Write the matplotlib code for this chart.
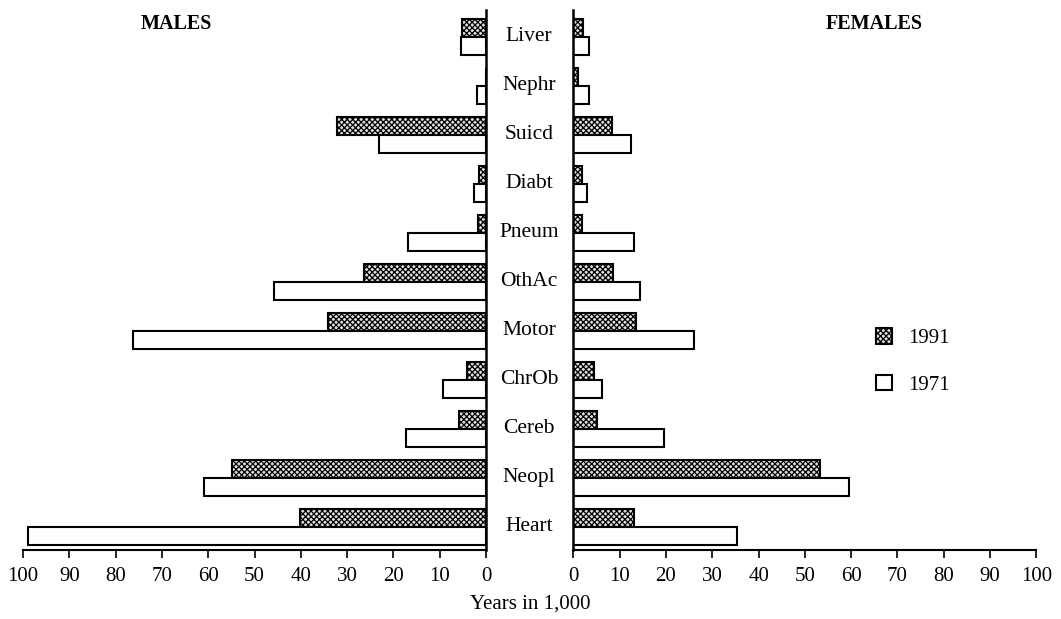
import numpy as np
import matplotlib
matplotlib.use("Agg")
import matplotlib.pyplot as plt
import matplotlib.transforms as mtransforms
from matplotlib.patches import Patch

# -------------------------------
# Data (years in 1,000), bottom to top
# -------------------------------
causes = ["Heart", "Neopl", "Cereb", "ChrOb", "Motor", "OthAc",
          "Pneum", "Diabt", "Suicd", "Nephr", "Liver"]

males_1991 = [40.1, 54.8, 5.8, 4.2, 34.2, 26.3, 1.8, 1.6, 32.1, 0.0, 5.1]
males_1971 = [98.9, 61.0, 17.2, 9.2, 76.3, 45.7, 16.8, 2.5, 23.1, 1.9, 5.5]

females_1991 = [13.1, 53.2, 5.2, 4.4, 13.6, 8.6, 1.8, 1.9, 8.4, 0.9, 2.1]
females_1971 = [35.4, 59.5, 19.6, 6.1, 26.1, 14.3, 13.1, 3.0, 12.4, 3.3, 3.3]

ticks = [0, 10, 20, 30, 40, 50, 60, 70, 80, 90, 100]

# -------------------------------
# Style
# -------------------------------
plt.rcParams["font.family"] = ["Liberation Serif", "DejaVu Serif"]
plt.rcParams["hatch.linewidth"] = 0.9

hatch_style = dict(facecolor="#e0e0e0", edgecolor="black", hatch="xxxxxx", linewidth=1.5)
plain_style = dict(facecolor="white", edgecolor="black", linewidth=1.5)

fig = plt.figure(figsize=(10.61, 6.19), dpi=100)
ax_l = fig.add_axes([0.0217, 0.1115, 0.4364, 0.8723])
ax_r = fig.add_axes([0.5404, 0.1115, 0.4364, 0.8723])

y = np.arange(len(causes))
h = 0.355
off = 0.185

# -------------------------------
# Males (left, reversed axis)
# -------------------------------
ax_l.barh(y + off, males_1991, height=h, **hatch_style)
ax_l.barh(y - off, males_1971, height=h, **plain_style)
ax_l.set_xlim(100, 0)

# -------------------------------
# Females (right)
# -------------------------------
ax_r.barh(y + off, females_1991, height=h, **hatch_style)
ax_r.barh(y - off, females_1971, height=h, **plain_style)
ax_r.set_xlim(0, 100)

for ax, side in [(ax_l, "right"), (ax_r, "left")]:
    ax.set_ylim(-0.47, 10.55)
    ax.set_xticks(ticks)
    ax.set_xticklabels([str(t) for t in ticks], fontsize=15)
    ax.tick_params(axis="x", direction="out", length=6, width=1.2, pad=6)
    ax.set_yticks([])
    for s in ["top", "left", "right"]:
        ax.spines[s].set_visible(s == side)
    ax.spines[side].set_linewidth(1.8)
    ax.spines["bottom"].set_linewidth(1.5)

# category labels centred between the two panels
trans = mtransforms.blended_transform_factory(fig.transFigure, ax_l.transData)
for i, c in enumerate(causes):
    ax_l.text(0.4985, y[i], c, transform=trans, ha="center", va="center",
              fontsize=15.5, clip_on=False)

fig.text(0.166, 0.962, "MALES", ha="center", va="center", fontsize=14.5, fontweight="bold")
fig.text(0.824, 0.962, "FEMALES", ha="center", va="center", fontsize=14.5, fontweight="bold")
fig.text(0.4995, 0.024, "Years in 1,000", ha="center", va="center", fontsize=15)

handles = [Patch(**hatch_style), Patch(**plain_style)]
ax_r.legend(handles, ["1991", "1971"], loc="upper left",
            bbox_to_anchor=(0.808, 0.50), bbox_transform=fig.transFigure,
            frameon=False, fontsize=15, handlelength=0.75, handleheight=0.75,
            handletextpad=0.8, labelspacing=1.3)

fig.savefig("out.png", dpi=100)
